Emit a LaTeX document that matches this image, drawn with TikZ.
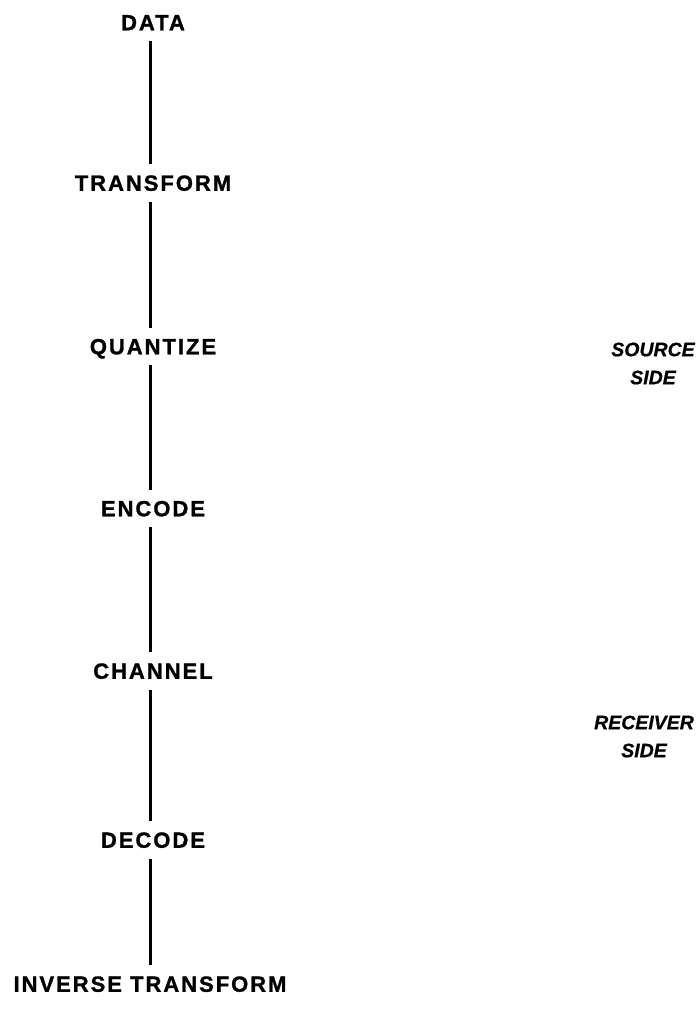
\documentclass[tikz,border=0pt]{standalone}
\usepackage{fontspec}
\setmainfont{Liberation Sans}
\newfontfamily\stepfont[LetterSpace=9,FakeBold=1.2]{Liberation Sans Bold}
\newfontfamily\sidefont[FakeBold=0.6]{Liberation Sans Bold Italic}
\begin{document}
\begin{tikzpicture}[x=1pt,y=1pt,
  stagebox/.style={font=\stepfont\fontsize{22}{22}\selectfont, text height=15.5pt, text depth=0pt, inner xsep=0pt, inner ysep=11pt, anchor=center},
  sidelabel/.style={font=\sidefont\fontsize{19.5}{28}\selectfont, align=center, inner sep=0pt, anchor=center},
  link/.style={line width=3pt}]
\useasboundingbox (0,0) rectangle (699,-1009);
\node[stagebox] (data) at (153,-22.5) {DATA};
\node[stagebox] (transform) at (153,-183) {TRANSFORM};
\node[stagebox] (quantize) at (153,-346.5) {QUANTIZE};
\node[stagebox] (encode) at (153,-508.5) {ENCODE};
\node[stagebox] (channel) at (153,-671) {CHANNEL};
\node[stagebox] (decode) at (153,-840) {DECODE};
\node[stagebox] (inverse) at (150,-984) {INVERSE TRANSFORM};
\draw[link] ([xshift=-3pt]data.south) -- ([xshift=-3pt]transform.north);
\draw[link] ([xshift=-3pt]transform.south) -- ([xshift=-3pt]quantize.north);
\draw[link] ([xshift=-3pt]quantize.south) -- ([xshift=-3pt]encode.north);
\draw[link] ([xshift=-3pt]encode.south) -- ([xshift=-3pt]channel.north);
\draw[link] ([xshift=-3pt]channel.south) -- ([xshift=-3pt]decode.north);
\draw[link] ([xshift=-3pt]decode.south) -- (inverse.north);
\node[sidelabel] (source) at (653,-363.5) {SOURCE\\SIDE};
\node[sidelabel] (receiver) at (644,-736.5) {RECEIVER\\SIDE};
\end{tikzpicture}
\end{document}
